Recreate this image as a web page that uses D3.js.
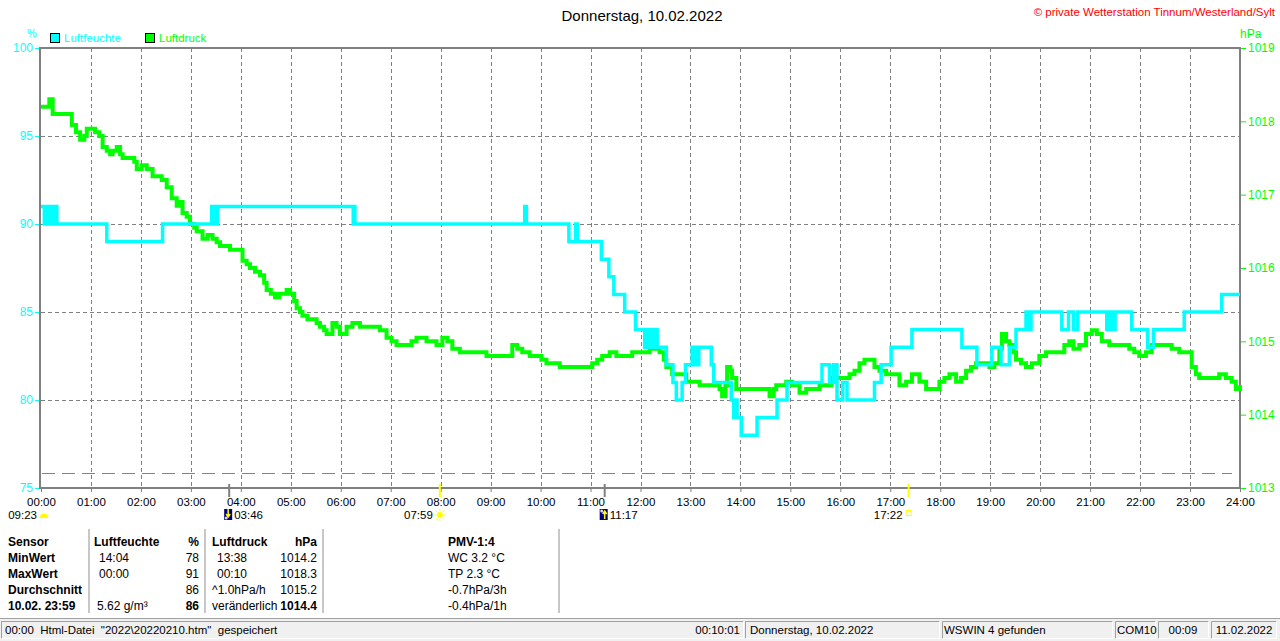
<!DOCTYPE html>
<html>
<head>
<meta charset="utf-8">
<script src="https://cdn.jsdelivr.net/npm/d3@7"></script>
<style>
body { margin: 0; background: #fff; }
text { font-family: "Liberation Sans", Arial, sans-serif; }
</style>
</head>
<body>
<div id="chart"></div>
<script>
// ---- data ----
var hourTicks = d3.range(0, 25);
var humTicks = [75, 80, 85, 90, 95, 100];
var presTicks = [1013, 1014, 1015, 1016, 1017, 1018, 1019];

// humidity (step values, minutes since midnight)
var humTimes = [0,4,6,9,11,14,16,19,79,146,205,207,209,211,212,375,376,377,581,583,634,642,644,
  673,682,688,701,714,725,728,731,734,737,739,740,751,759,763,770,774,782,786,790,805,808,
  829,832,834,836,841,860,884,896,938,947,952,956,963,968,1001,1009,1021,1046,1106,1124,1142,1153,
  1163,1171,1183,1186,1189,1226,1234,1240,1245,1280,1282,1284,1286,1288,1290,1310,1329,1336,1373,1418,1440];
var humValues = [91,90,91,90,91,90,91,90,89,90,91,90,91,90,91,90,91,90,91,90,89,90,89,
  88,87,86,85,84,83,84,83,84,83,84,83,82,81,80,81,82,83,82,83,82,81,
  80,79,80,79,78,79,80,81,82,81,82,80,81,80,81,82,83,84,83,82,83,82,
  83,84,85,84,85,84,85,84,85,84,85,84,85,84,85,84,83,84,85,86,86];

// pressure (minutes since midnight, hPa)
var presTimes = [0,5,10,14,20,26,32,37,42,47,52,55,60,65,70,74,79,83,86,91,95,98,107,112,115,121,127,131,134,140,
  145,151,157,163,167,170,175,179,184,187,194,200,206,211,215,221,227,235,242,247,251,257,263,268,271,276,281,286,290,295,
  299,304,307,311,314,320,326,331,335,340,343,350,355,359,367,374,383,391,400,407,415,421,427,433,439,445,451,457,463,469,
  475,482,488,494,503,511,518,527,535,542,551,559,566,572,578,587,595,601,607,614,623,631,638,647,655,662,668,674,683,691,
  703,710,719,727,731,737,743,748,751,758,767,775,782,791,799,805,811,815,818,822,824,828,830,835,841,847,859,871,875,880,
  883,889,895,902,911,919,926,935,943,949,955,962,971,977,983,989,995,1001,1007,1015,1022,1031,1039,1046,1055,1063,1070,1079,
  1085,1091,1099,1105,1111,1117,1123,1130,1139,1145,1151,1154,1159,1163,1168,1171,1177,1183,1190,1199,1207,1214,1223,1229,1235,1240,
  1247,1255,1262,1268,1274,1283,1291,1298,1307,1313,1319,1327,1334,1343,1351,1358,1367,1376,1382,1387,1391,1399,1406,1415,1423,1430,1435,1440];
var presValues = [1018.2,1018.2,1018.3,1018.1,1018.1,1018.1,1018.1,1017.95,1017.85,1017.75,1017.8,1017.9,1017.9,1017.85,1017.8,1017.65,1017.6,1017.55,1017.6,1017.65,1017.55,1017.5,1017.5,1017.45,1017.35,1017.4,1017.35,1017.35,1017.25,1017.25,
  1017.2,1017.1,1016.95,1016.85,1016.9,1016.75,1016.7,1016.6,1016.55,1016.5,1016.4,1016.45,1016.4,1016.35,1016.3,1016.3,1016.25,1016.25,1016.1,1016.05,1016.0,1015.95,1015.9,1015.8,1015.7,1015.65,1015.6,1015.65,1015.65,1015.7,
  1015.65,1015.55,1015.45,1015.4,1015.35,1015.3,1015.3,1015.25,1015.2,1015.15,1015.1,1015.25,1015.2,1015.1,1015.2,1015.25,1015.2,1015.2,1015.2,1015.15,1015.05,1015.0,1014.95,1014.95,1014.95,1015.0,1015.05,1015.05,1015.0,1015.0,
  1014.95,1015.05,1015.0,1014.9,1014.85,1014.85,1014.85,1014.85,1014.8,1014.8,1014.8,1014.8,1014.95,1014.9,1014.85,1014.8,1014.8,1014.75,1014.7,1014.7,1014.65,1014.65,1014.65,1014.65,1014.65,1014.7,1014.75,1014.8,1014.85,1014.8,
  1014.8,1014.85,1014.85,1014.85,1014.9,1014.9,1014.85,1014.75,1014.65,1014.55,1014.55,1014.45,1014.45,1014.4,1014.4,1014.4,1014.4,1014.35,1014.25,1014.4,1014.65,1014.6,1014.5,1014.35,1014.35,1014.35,1014.35,1014.35,1014.25,1014.35,
  1014.4,1014.4,1014.45,1014.4,1014.3,1014.35,1014.35,1014.4,1014.4,1014.5,1014.5,1014.5,1014.55,1014.6,1014.7,1014.75,1014.75,1014.65,1014.6,1014.55,1014.55,1014.4,1014.45,1014.55,1014.45,1014.35,1014.35,1014.45,
  1014.5,1014.55,1014.45,1014.5,1014.6,1014.65,1014.7,1014.7,1014.65,1014.7,1014.9,1015.1,1015.0,1014.95,1014.85,1014.75,1014.7,1014.65,1014.7,1014.8,1014.85,1014.85,1014.85,1014.95,1015.0,1014.9,
  1014.95,1015.1,1015.15,1015.1,1015.0,1014.95,1014.95,1014.95,1014.9,1014.85,1014.8,1014.85,1014.95,1014.95,1014.95,1014.9,1014.85,1014.85,1014.65,1014.55,1014.5,1014.5,1014.5,1014.55,1014.5,1014.45,1014.35,1014.4];

// dashed reference level (hPa)
var presRefLevel = 1013.2;

// sun / moon events under the time axis
var astroTimes = ["09:23", "03:46", "07:59", "11:17", "17:22"];
var astroKinds = ["moonStart", "moonDown", "sunUp", "moonUp", "sunDown"];

// table below the chart
var rowLabels = ["Sensor", "MinWert", "MaxWert", "Durchschnitt", "10.02. 23:59"];
var humColTimes = ["14:04", "00:00", "", "5.62 g/m\u00b3"];
var humColValues = ["78", "91", "86", "86"];
var presColNotes = ["13:38", "00:10", "^1.0hPa/h", "ver\u00e4nderlich"];
var presColValues = ["1014.2", "1018.3", "1015.2", "1014.4"];
var pmvLines = ["PMV-1:4", "WC 3.2 \u00b0C", "TP 2.3 \u00b0C", "-0.7hPa/3h", "-0.4hPa/1h"];

// status bar
var statusTexts = ["00:00  Html-Datei  \"2022\\20220210.htm\"  gespeichert", "00:10:01", "Donnerstag, 10.02.2022",
  "WSWIN 4 gefunden", "COM10", "00:09", "11.02.2022"];

// ---- drawing ----
var W = 1280, H = 641;
var cyan = "#00ffff", green = "#00ff00", gray = "#808080";
var plotL = 41, plotR = 1240, plotT = 48, plotB = 488;

var svg = d3.select("#chart").append("svg")
  .attr("width", W).attr("height", H)
  .style("display", "block");
svg.append("rect").attr("width", W).attr("height", H).attr("fill", "#fff");

var x = d3.scaleLinear().domain([0, 1440]).range([plotL, plotR]);
var yH = d3.scaleLinear().domain([75, 100]).range([plotB, plotT]);
var yP = d3.scaleLinear().domain([1013, 1019]).range([plotB, plotT]);

function toMin(s) { var p = s.split(":"); return +p[0] * 60 + +p[1]; }

// title and header texts
svg.append("text").attr("x", 642).attr("y", 21).attr("text-anchor", "middle")
  .attr("font-size", "15px").attr("fill", "#000").text("Donnerstag, 10.02.2022");
svg.append("text").attr("x", 1275).attr("y", 16).attr("text-anchor", "end")
  .attr("font-size", "11.5px").attr("fill", "#ff0000").text("\u00a9 private Wetterstation Tinnum/Westerland/Sylt");
svg.append("text").attr("x", 27).attr("y", 37).attr("font-size", "11px").attr("fill", cyan).text("%");
svg.append("text").attr("x", 1240).attr("y", 38).attr("font-size", "12px").attr("fill", green).text("hPa");

// legend
var legend = [{name: "Luftfeuchte", c: cyan, x: 50}, {name: "Luftdruck", c: green, x: 145}];
legend.forEach(function(d) {
  svg.append("rect").attr("x", d.x + 0.5).attr("y", 33.5).attr("width", 9).attr("height", 9)
    .attr("fill", d.c).attr("stroke", "#000").attr("stroke-width", 1);
  svg.append("text").attr("x", d.x + 14).attr("y", 42).attr("font-size", "11.5px").attr("fill", d.c).text(d.name);
});

// grid
var grid = svg.append("g");
grid.selectAll("line.v").data(hourTicks.slice(1, 24)).enter().append("line")
  .attr("x1", function(d) { return Math.round(x(d * 60)) + 0.5; })
  .attr("x2", function(d) { return Math.round(x(d * 60)) + 0.5; })
  .attr("y1", plotT).attr("y2", plotB)
  .attr("stroke", gray).attr("stroke-width", 1).attr("stroke-dasharray", "4,3");
grid.selectAll("line.h").data(humTicks.slice(1, 5)).enter().append("line")
  .attr("x1", plotL).attr("x2", plotR)
  .attr("y1", function(d) { return Math.round(yH(d)) + 0.5; })
  .attr("y2", function(d) { return Math.round(yH(d)) + 0.5; })
  .attr("stroke", gray).attr("stroke-width", 1).attr("stroke-dasharray", "4,3");

// dashed reference line
svg.append("line").attr("x1", plotL + 1).attr("x2", 1232)
  .attr("y1", Math.round(yP(presRefLevel)) + 0.5).attr("y2", Math.round(yP(presRefLevel)) + 0.5)
  .attr("stroke", "#00e000").attr("stroke-width", 1).attr("stroke-dasharray", "13,7");

// frame
svg.append("line").attr("x1", plotL - 2).attr("x2", plotR + 1).attr("y1", plotT).attr("y2", plotT)
  .attr("stroke", gray).attr("stroke-width", 2);
svg.append("line").attr("x1", plotL - 2).attr("x2", plotR + 1).attr("y1", plotB).attr("y2", plotB)
  .attr("stroke", gray).attr("stroke-width", 2);
svg.append("line").attr("x1", plotL - 1).attr("x2", plotL - 1).attr("y1", plotT).attr("y2", plotB)
  .attr("stroke", gray).attr("stroke-width", 2);
svg.append("line").attr("x1", plotR).attr("x2", plotR).attr("y1", plotT).attr("y2", plotB)
  .attr("stroke", gray).attr("stroke-width", 2);

// axes
var axL = svg.append("g").attr("transform", "translate(" + (plotL - 2) + ",0)")
  .call(d3.axisLeft(yH).tickValues(humTicks).tickSize(4).tickPadding(2));
axL.select(".domain").remove();
axL.selectAll("line").attr("stroke", cyan);
axL.selectAll("text").attr("fill", cyan).attr("font-size", "12px")
  .attr("font-family", "'Liberation Sans', Arial, sans-serif");

var axR = svg.append("g").attr("transform", "translate(" + (plotR + 1) + ",0)")
  .call(d3.axisRight(yP).tickValues(presTicks).tickFormat(d3.format("d")).tickSize(5).tickPadding(2));
axR.select(".domain").remove();
axR.selectAll("line").attr("stroke", green);
axR.selectAll("text").attr("fill", green).attr("font-size", "12px")
  .attr("font-family", "'Liberation Sans', Arial, sans-serif");

var axB = svg.append("g").attr("transform", "translate(0," + (plotB + 1) + ")")
  .call(d3.axisBottom(x).tickValues(hourTicks.map(function(h) { return h * 60; }))
    .tickFormat(function(d) { return d3.format("02d")(d / 60) + ":00"; }).tickSize(3).tickPadding(6));
axB.select(".domain").remove();
axB.selectAll("line").attr("stroke", gray);
axB.selectAll("text").attr("fill", "#000").attr("font-size", "11.5px")
  .attr("font-family", "'Liberation Sans', Arial, sans-serif");

// pressure line
var presData = presTimes.map(function(t, i) { return {t: t, v: presValues[i]}; });
svg.append("path").datum(presData)
  .attr("fill", "none").attr("stroke", green).attr("stroke-width", 4).attr("stroke-linejoin", "miter")
  .attr("d", d3.line().curve(d3.curveStepAfter)
    .x(function(d) { return x(d.t); }).y(function(d) { return yP(d.v); }));

// humidity line
var humData = humTimes.map(function(t, i) { return {t: t, v: humValues[i]}; });
svg.append("path").datum(humData)
  .attr("fill", "none").attr("stroke", cyan).attr("stroke-width", 3.5).attr("stroke-linejoin", "miter")
  .attr("d", d3.line().curve(d3.curveStepAfter)
    .x(function(d) { return x(d.t); }).y(function(d) { return yH(d.v); }));

// sun / moon markers
var astro = svg.append("g");
astroTimes.forEach(function(s, i) {
  var kind = astroKinds[i];
  var m = kind == "moonStart" ? 0 : toMin(s);
  var px = x(m);
  var ty = 519;
  if (kind != "moonStart") {
    astro.append("line").attr("x1", px).attr("x2", px).attr("y1", 484).attr("y2", 497)
      .attr("stroke", kind.indexOf("sun") == 0 ? "#ffff00" : gray).attr("stroke-width", 2);
  }
  if (kind == "moonStart") {
    astro.append("text").attr("x", 37).attr("y", ty).attr("text-anchor", "end").attr("font-size", "11.5px").text(s);
    astro.append("path").attr("d", d3.arc()({innerRadius: 0, outerRadius: 4.5, startAngle: -Math.PI / 2, endAngle: Math.PI / 2}))
      .attr("transform", "translate(44,518)").attr("fill", "#ffff00");
  } else if (kind == "moonDown" || kind == "moonUp") {
    astro.append("rect").attr("x", px - 5).attr("y", 509).attr("width", 8).attr("height", 11).attr("fill", "#000080");
    astro.append("path").attr("d", kind == "moonDown" ? "M-1,-5V2M-3,0L-1,3L1,0" : "M0,5V-2M-2,0L0,-3L2,0")
      .attr("transform", "translate(" + (px) + ",514)").attr("stroke", "#ffff00").attr("stroke-width", 1.5).attr("fill", "none");
    astro.append("circle").attr("cx", px - 3).attr("cy", kind == "moonDown" ? 518 : 511).attr("r", 1.5).attr("fill", "#ddd");
    astro.append("text").attr("x", px + 5).attr("y", ty).attr("font-size", "11.5px").text(s);
  } else if (kind == "sunUp") {
    astro.append("text").attr("x", px - 7).attr("y", ty).attr("text-anchor", "end").attr("font-size", "11.5px").text(s);
    var sun = astro.append("g").attr("transform", "translate(" + px + ",515)");
    sun.append("circle").attr("r", 3).attr("fill", "#ffff00");
    d3.range(8).forEach(function(k) {
      var a = k * Math.PI / 4;
      sun.append("line").attr("x1", Math.cos(a) * 4).attr("y1", Math.sin(a) * 4)
        .attr("x2", Math.cos(a) * 6).attr("y2", Math.sin(a) * 6).attr("stroke", "#ffff00").attr("stroke-width", 1);
    });
  } else {
    astro.append("text").attr("x", px - 6).attr("y", ty).attr("text-anchor", "end").attr("font-size", "11.5px").text(s);
    astro.append("rect").attr("x", px - 2.5).attr("y", 510.5).attr("width", 5).attr("height", 5)
      .attr("fill", "none").attr("stroke", "#ffff00").attr("stroke-width", 1);
  }
});

// table
var tbl = svg.append("g").attr("font-size", "12px").attr("fill", "#000");
[89, 205, 323, 559].forEach(function(sx) {
  tbl.append("line").attr("x1", sx).attr("x2", sx).attr("y1", 529).attr("y2", 613)
    .attr("stroke", "#b4b4b4").attr("stroke-width", 1.5);
});
var rowY = function(i) { return 546 + i * 16; };
rowLabels.forEach(function(s, i) {
  tbl.append("text").attr("x", 8).attr("y", rowY(i)).attr("font-weight", "bold").text(s);
});
tbl.append("text").attr("x", 94).attr("y", rowY(0)).attr("font-weight", "bold").text("Luftfeuchte");
tbl.append("text").attr("x", 199).attr("y", rowY(0)).attr("font-weight", "bold").attr("text-anchor", "end").text("%");
humColTimes.forEach(function(s, i) {
  tbl.append("text").attr("x", i == 3 ? 97 : 99).attr("y", rowY(i + 1)).text(s);
  tbl.append("text").attr("x", 199).attr("y", rowY(i + 1)).attr("text-anchor", "end")
    .attr("font-weight", i == 3 ? "bold" : "normal").text(humColValues[i]);
});
tbl.append("text").attr("x", 212).attr("y", rowY(0)).attr("font-weight", "bold").text("Luftdruck");
tbl.append("text").attr("x", 317).attr("y", rowY(0)).attr("font-weight", "bold").attr("text-anchor", "end").text("hPa");
presColNotes.forEach(function(s, i) {
  tbl.append("text").attr("x", i < 2 ? 217 : 212).attr("y", rowY(i + 1)).text(s);
  tbl.append("text").attr("x", 317).attr("y", rowY(i + 1)).attr("text-anchor", "end")
    .attr("font-weight", i == 3 ? "bold" : "normal").text(presColValues[i]);
});
pmvLines.forEach(function(s, i) {
  tbl.append("text").attr("x", 448).attr("y", rowY(i)).attr("font-weight", i == 0 ? "bold" : "normal").text(s);
});

// status bar
var sb = svg.append("g");
sb.append("rect").attr("x", 0).attr("y", 618).attr("width", W).attr("height", H - 618).attr("fill", "#f0f0f0");
sb.append("line").attr("x1", 0).attr("x2", W).attr("y1", 618.5).attr("y2", 618.5).attr("stroke", "#a0a0a0");
var panels = [[1, 744], [745, 940], [942, 1113], [1115, 1156], [1158, 1209], [1211, 1277]];
panels.forEach(function(p) {
  sb.append("path").attr("d", "M" + (p[0] + 0.5) + ",638.5V621.5H" + (p[1] - 0.5))
    .attr("fill", "none").attr("stroke", "#a0a0a0");
  sb.append("path").attr("d", "M" + (p[0] + 0.5) + ",638.5H" + (p[1] - 0.5) + "V621.5")
    .attr("fill", "none").attr("stroke", "#ffffff");
});
var sbText = function(s, px, anchor) {
  sb.append("text").attr("x", px).attr("y", 634).attr("text-anchor", anchor || "start")
    .attr("font-size", "11.5px").attr("fill", "#000").style("white-space", "pre").text(s);
};
sbText(statusTexts[0], 5);
sbText(statusTexts[1], 740, "end");
sbText(statusTexts[2], 750);
sbText(statusTexts[3], 944);
sbText(statusTexts[4], 1117);
sbText(statusTexts[5], 1183, "middle");
sbText(statusTexts[6], 1244, "middle");
</script>
</body>
</html>
